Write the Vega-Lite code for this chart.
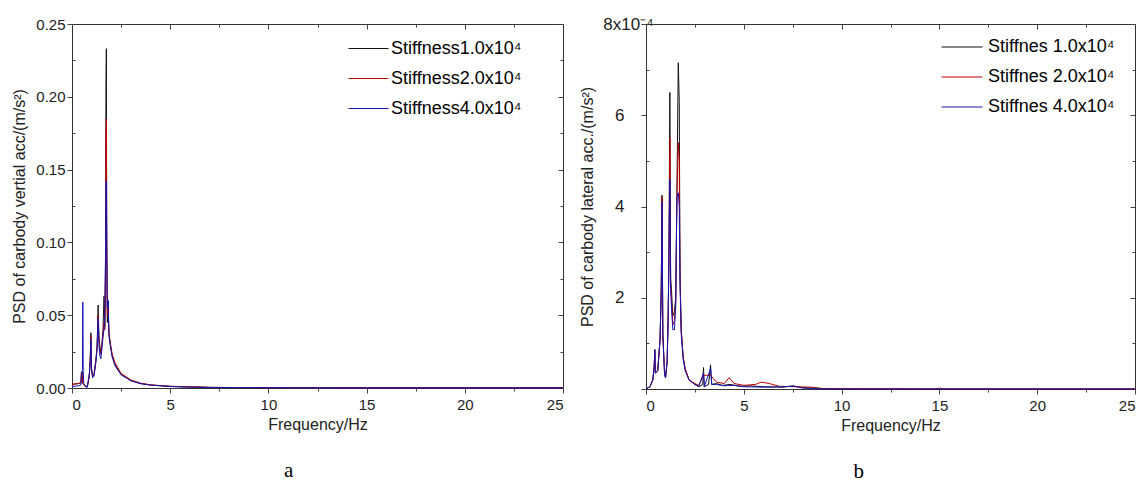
{
  "$schema": "https://vega.github.io/schema/vega-lite/v6.json",
  "padding": {"left": 11, "top": 15, "right": 0, "bottom": 0},
  "config": {
    "font": "Liberation Sans",
    "view": {"stroke": null},
    "axis": {"labelFontSize": 15, "titleFontSize": 16, "labelColor": "#222", "titleColor": "#222", "domainColor": "#333", "tickColor": "#444", "grid": false, "titleFontWeight": "normal", "labelFont": "Liberation Sans", "titleFont": "Liberation Sans"},
    "legend": {"labelFont": "Liberation Sans"}
  },
  "datasets": {
    "vert": [
      {"f":0,"v":0.0025,"s":"Stiffness1.0x10⁴"},{"f":0.3,"v":0.003,"s":"Stiffness1.0x10⁴"},{"f":0.45,"v":0.0035,"s":"Stiffness1.0x10⁴"},{"f":0.48,"v":0.011,"s":"Stiffness1.0x10⁴"},{"f":0.52,"v":0.011,"s":"Stiffness1.0x10⁴"},{"f":0.55,"v":0.003,"s":"Stiffness1.0x10⁴"},{"f":0.65,"v":0.0015,"s":"Stiffness1.0x10⁴"},{"f":0.78,"v":0.001,"s":"Stiffness1.0x10⁴"},{"f":0.88,"v":0.008,"s":"Stiffness1.0x10⁴"},{"f":0.93,"v":0.02,"s":"Stiffness1.0x10⁴"},{"f":0.96,"v":0.038,"s":"Stiffness1.0x10⁴"},{"f":0.99,"v":0.014,"s":"Stiffness1.0x10⁴"},{"f":1.05,"v":0.008,"s":"Stiffness1.0x10⁴"},{"f":1.12,"v":0.009,"s":"Stiffness1.0x10⁴"},{"f":1.22,"v":0.02,"s":"Stiffness1.0x10⁴"},{"f":1.28,"v":0.03,"s":"Stiffness1.0x10⁴"},{"f":1.33,"v":0.057,"s":"Stiffness1.0x10⁴"},{"f":1.37,"v":0.036,"s":"Stiffness1.0x10⁴"},{"f":1.42,"v":0.028,"s":"Stiffness1.0x10⁴"},{"f":1.47,"v":0.025,"s":"Stiffness1.0x10⁴"},{"f":1.53,"v":0.032,"s":"Stiffness1.0x10⁴"},{"f":1.58,"v":0.04,"s":"Stiffness1.0x10⁴"},{"f":1.63,"v":0.063,"s":"Stiffness1.0x10⁴"},{"f":1.67,"v":0.042,"s":"Stiffness1.0x10⁴"},{"f":1.71,"v":0.09,"s":"Stiffness1.0x10⁴"},{"f":1.73,"v":0.208,"s":"Stiffness1.0x10⁴"},{"f":1.75,"v":0.233,"s":"Stiffness1.0x10⁴"},{"f":1.77,"v":0.09,"s":"Stiffness1.0x10⁴"},{"f":1.8,"v":0.045,"s":"Stiffness1.0x10⁴"},{"f":1.84,"v":0.06,"s":"Stiffness1.0x10⁴"},{"f":1.88,"v":0.038,"s":"Stiffness1.0x10⁴"},{"f":1.95,"v":0.03,"s":"Stiffness1.0x10⁴"},{"f":2.05,"v":0.022,"s":"Stiffness1.0x10⁴"},{"f":2.2,"v":0.016,"s":"Stiffness1.0x10⁴"},{"f":2.5,"v":0.0095,"s":"Stiffness1.0x10⁴"},{"f":3,"v":0.005,"s":"Stiffness1.0x10⁴"},{"f":3.5,"v":0.003,"s":"Stiffness1.0x10⁴"},{"f":4,"v":0.002,"s":"Stiffness1.0x10⁴"},{"f":5,"v":0.0011,"s":"Stiffness1.0x10⁴"},{"f":6,"v":0.0006,"s":"Stiffness1.0x10⁴"},{"f":7,"v":0.0004,"s":"Stiffness1.0x10⁴"},{"f":10,"v":0.0002,"s":"Stiffness1.0x10⁴"},{"f":15,"v":0.0001,"s":"Stiffness1.0x10⁴"},{"f":25,"v":0.0001,"s":"Stiffness1.0x10⁴"},
      {"f":0,"v":0.0025,"s":"Stiffness2.0x10⁴"},{"f":0.3,"v":0.003,"s":"Stiffness2.0x10⁴"},{"f":0.45,"v":0.0035,"s":"Stiffness2.0x10⁴"},{"f":0.48,"v":0.01,"s":"Stiffness2.0x10⁴"},{"f":0.52,"v":0.01,"s":"Stiffness2.0x10⁴"},{"f":0.55,"v":0.003,"s":"Stiffness2.0x10⁴"},{"f":0.65,"v":0.0015,"s":"Stiffness2.0x10⁴"},{"f":0.78,"v":0.001,"s":"Stiffness2.0x10⁴"},{"f":0.88,"v":0.008,"s":"Stiffness2.0x10⁴"},{"f":0.93,"v":0.02,"s":"Stiffness2.0x10⁴"},{"f":0.96,"v":0.036,"s":"Stiffness2.0x10⁴"},{"f":0.99,"v":0.014,"s":"Stiffness2.0x10⁴"},{"f":1.05,"v":0.008,"s":"Stiffness2.0x10⁴"},{"f":1.12,"v":0.009,"s":"Stiffness2.0x10⁴"},{"f":1.22,"v":0.019,"s":"Stiffness2.0x10⁴"},{"f":1.28,"v":0.028,"s":"Stiffness2.0x10⁴"},{"f":1.33,"v":0.05,"s":"Stiffness2.0x10⁴"},{"f":1.37,"v":0.034,"s":"Stiffness2.0x10⁴"},{"f":1.42,"v":0.026,"s":"Stiffness2.0x10⁴"},{"f":1.47,"v":0.023,"s":"Stiffness2.0x10⁴"},{"f":1.53,"v":0.03,"s":"Stiffness2.0x10⁴"},{"f":1.58,"v":0.037,"s":"Stiffness2.0x10⁴"},{"f":1.63,"v":0.045,"s":"Stiffness2.0x10⁴"},{"f":1.67,"v":0.04,"s":"Stiffness2.0x10⁴"},{"f":1.71,"v":0.08,"s":"Stiffness2.0x10⁴"},{"f":1.73,"v":0.175,"s":"Stiffness2.0x10⁴"},{"f":1.75,"v":0.185,"s":"Stiffness2.0x10⁴"},{"f":1.77,"v":0.095,"s":"Stiffness2.0x10⁴"},{"f":1.8,"v":0.05,"s":"Stiffness2.0x10⁴"},{"f":1.84,"v":0.055,"s":"Stiffness2.0x10⁴"},{"f":1.88,"v":0.038,"s":"Stiffness2.0x10⁴"},{"f":1.95,"v":0.031,"s":"Stiffness2.0x10⁴"},{"f":2.05,"v":0.023,"s":"Stiffness2.0x10⁴"},{"f":2.2,"v":0.017,"s":"Stiffness2.0x10⁴"},{"f":2.5,"v":0.01,"s":"Stiffness2.0x10⁴"},{"f":3,"v":0.0055,"s":"Stiffness2.0x10⁴"},{"f":3.5,"v":0.0033,"s":"Stiffness2.0x10⁴"},{"f":4,"v":0.0022,"s":"Stiffness2.0x10⁴"},{"f":5,"v":0.0012,"s":"Stiffness2.0x10⁴"},{"f":6,"v":0.0008,"s":"Stiffness2.0x10⁴"},{"f":6.4,"v":0.0009,"s":"Stiffness2.0x10⁴"},{"f":7,"v":0.0004,"s":"Stiffness2.0x10⁴"},{"f":10,"v":0.0002,"s":"Stiffness2.0x10⁴"},{"f":15,"v":0.0001,"s":"Stiffness2.0x10⁴"},{"f":25,"v":0.0001,"s":"Stiffness2.0x10⁴"},
      {"f":0,"v":0.001,"s":"Stiffness4.0x10⁴"},{"f":0.3,"v":0.0015,"s":"Stiffness4.0x10⁴"},{"f":0.45,"v":0.002,"s":"Stiffness4.0x10⁴"},{"f":0.5,"v":0.01,"s":"Stiffness4.0x10⁴"},{"f":0.53,"v":0.012,"s":"Stiffness4.0x10⁴"},{"f":0.55,"v":0.059,"s":"Stiffness4.0x10⁴"},{"f":0.57,"v":0.012,"s":"Stiffness4.0x10⁴"},{"f":0.6,"v":0.003,"s":"Stiffness4.0x10⁴"},{"f":0.7,"v":0.0008,"s":"Stiffness4.0x10⁴"},{"f":0.78,"v":0.0005,"s":"Stiffness4.0x10⁴"},{"f":0.88,"v":0.01,"s":"Stiffness4.0x10⁴"},{"f":0.93,"v":0.018,"s":"Stiffness4.0x10⁴"},{"f":0.96,"v":0.034,"s":"Stiffness4.0x10⁴"},{"f":0.99,"v":0.013,"s":"Stiffness4.0x10⁴"},{"f":1.05,"v":0.007,"s":"Stiffness4.0x10⁴"},{"f":1.12,"v":0.008,"s":"Stiffness4.0x10⁴"},{"f":1.22,"v":0.018,"s":"Stiffness4.0x10⁴"},{"f":1.28,"v":0.027,"s":"Stiffness4.0x10⁴"},{"f":1.33,"v":0.048,"s":"Stiffness4.0x10⁴"},{"f":1.37,"v":0.03,"s":"Stiffness4.0x10⁴"},{"f":1.42,"v":0.022,"s":"Stiffness4.0x10⁴"},{"f":1.47,"v":0.02,"s":"Stiffness4.0x10⁴"},{"f":1.53,"v":0.028,"s":"Stiffness4.0x10⁴"},{"f":1.58,"v":0.035,"s":"Stiffness4.0x10⁴"},{"f":1.63,"v":0.04,"s":"Stiffness4.0x10⁴"},{"f":1.67,"v":0.05,"s":"Stiffness4.0x10⁴"},{"f":1.71,"v":0.095,"s":"Stiffness4.0x10⁴"},{"f":1.73,"v":0.14,"s":"Stiffness4.0x10⁴"},{"f":1.75,"v":0.142,"s":"Stiffness4.0x10⁴"},{"f":1.77,"v":0.1,"s":"Stiffness4.0x10⁴"},{"f":1.8,"v":0.055,"s":"Stiffness4.0x10⁴"},{"f":1.84,"v":0.06,"s":"Stiffness4.0x10⁴"},{"f":1.88,"v":0.036,"s":"Stiffness4.0x10⁴"},{"f":1.95,"v":0.029,"s":"Stiffness4.0x10⁴"},{"f":2.05,"v":0.021,"s":"Stiffness4.0x10⁴"},{"f":2.2,"v":0.015,"s":"Stiffness4.0x10⁴"},{"f":2.5,"v":0.009,"s":"Stiffness4.0x10⁴"},{"f":3,"v":0.005,"s":"Stiffness4.0x10⁴"},{"f":3.5,"v":0.003,"s":"Stiffness4.0x10⁴"},{"f":4,"v":0.002,"s":"Stiffness4.0x10⁴"},{"f":5,"v":0.001,"s":"Stiffness4.0x10⁴"},{"f":6,"v":0.0006,"s":"Stiffness4.0x10⁴"},{"f":7,"v":0.0004,"s":"Stiffness4.0x10⁴"},{"f":10,"v":0.0002,"s":"Stiffness4.0x10⁴"},{"f":15,"v":0.0001,"s":"Stiffness4.0x10⁴"},{"f":25,"v":0.0001,"s":"Stiffness4.0x10⁴"}
    ],
    "lat": [
      {"f":0,"v":0,"s":"Stiffnes 1.0x10⁴"},{"f":0.2,"v":0.05,"s":"Stiffnes 1.0x10⁴"},{"f":0.35,"v":0.2,"s":"Stiffnes 1.0x10⁴"},{"f":0.42,"v":0.5,"s":"Stiffnes 1.0x10⁴"},{"f":0.45,"v":0.87,"s":"Stiffnes 1.0x10⁴"},{"f":0.48,"v":0.35,"s":"Stiffnes 1.0x10⁴"},{"f":0.6,"v":0.4,"s":"Stiffnes 1.0x10⁴"},{"f":0.72,"v":1.1,"s":"Stiffnes 1.0x10⁴"},{"f":0.78,"v":2.2,"s":"Stiffnes 1.0x10⁴"},{"f":0.82,"v":4.25,"s":"Stiffnes 1.0x10⁴"},{"f":0.86,"v":1.2,"s":"Stiffnes 1.0x10⁴"},{"f":0.95,"v":0.35,"s":"Stiffnes 1.0x10⁴"},{"f":1.0,"v":0.25,"s":"Stiffnes 1.0x10⁴"},{"f":1.08,"v":0.6,"s":"Stiffnes 1.0x10⁴"},{"f":1.13,"v":1.5,"s":"Stiffnes 1.0x10⁴"},{"f":1.17,"v":2.8,"s":"Stiffnes 1.0x10⁴"},{"f":1.22,"v":6.5,"s":"Stiffnes 1.0x10⁴"},{"f":1.26,"v":2.4,"s":"Stiffnes 1.0x10⁴"},{"f":1.3,"v":2.2,"s":"Stiffnes 1.0x10⁴"},{"f":1.37,"v":1.6,"s":"Stiffnes 1.0x10⁴"},{"f":1.45,"v":1.7,"s":"Stiffnes 1.0x10⁴"},{"f":1.52,"v":2.0,"s":"Stiffnes 1.0x10⁴"},{"f":1.58,"v":4.3,"s":"Stiffnes 1.0x10⁴"},{"f":1.65,"v":7.15,"s":"Stiffnes 1.0x10⁴"},{"f":1.7,"v":6.3,"s":"Stiffnes 1.0x10⁴"},{"f":1.74,"v":2.5,"s":"Stiffnes 1.0x10⁴"},{"f":1.8,"v":1.3,"s":"Stiffnes 1.0x10⁴"},{"f":1.9,"v":0.7,"s":"Stiffnes 1.0x10⁴"},{"f":2.0,"v":0.45,"s":"Stiffnes 1.0x10⁴"},{"f":2.2,"v":0.2,"s":"Stiffnes 1.0x10⁴"},{"f":2.5,"v":0.1,"s":"Stiffnes 1.0x10⁴"},{"f":2.7,"v":0.05,"s":"Stiffnes 1.0x10⁴"},{"f":2.9,"v":0.1,"s":"Stiffnes 1.0x10⁴"},{"f":2.94,"v":0.47,"s":"Stiffnes 1.0x10⁴"},{"f":2.98,"v":0.05,"s":"Stiffnes 1.0x10⁴"},{"f":3.2,"v":0.1,"s":"Stiffnes 1.0x10⁴"},{"f":3.3,"v":0.53,"s":"Stiffnes 1.0x10⁴"},{"f":3.36,"v":0.1,"s":"Stiffnes 1.0x10⁴"},{"f":3.6,"v":0.12,"s":"Stiffnes 1.0x10⁴"},{"f":3.9,"v":0.08,"s":"Stiffnes 1.0x10⁴"},{"f":4.3,"v":0.1,"s":"Stiffnes 1.0x10⁴"},{"f":4.8,"v":0.06,"s":"Stiffnes 1.0x10⁴"},{"f":5.3,"v":0.07,"s":"Stiffnes 1.0x10⁴"},{"f":6,"v":0.05,"s":"Stiffnes 1.0x10⁴"},{"f":7,"v":0.04,"s":"Stiffnes 1.0x10⁴"},{"f":7.5,"v":0.07,"s":"Stiffnes 1.0x10⁴"},{"f":8,"v":0.03,"s":"Stiffnes 1.0x10⁴"},{"f":9,"v":0.01,"s":"Stiffnes 1.0x10⁴"},{"f":10,"v":0,"s":"Stiffnes 1.0x10⁴"},{"f":25,"v":0,"s":"Stiffnes 1.0x10⁴"},
      {"f":0,"v":0,"s":"Stiffnes 2.0x10⁴"},{"f":0.2,"v":0.05,"s":"Stiffnes 2.0x10⁴"},{"f":0.35,"v":0.2,"s":"Stiffnes 2.0x10⁴"},{"f":0.42,"v":0.5,"s":"Stiffnes 2.0x10⁴"},{"f":0.45,"v":0.8,"s":"Stiffnes 2.0x10⁴"},{"f":0.48,"v":0.35,"s":"Stiffnes 2.0x10⁴"},{"f":0.6,"v":0.4,"s":"Stiffnes 2.0x10⁴"},{"f":0.72,"v":1.1,"s":"Stiffnes 2.0x10⁴"},{"f":0.78,"v":2.1,"s":"Stiffnes 2.0x10⁴"},{"f":0.82,"v":4.2,"s":"Stiffnes 2.0x10⁴"},{"f":0.86,"v":1.2,"s":"Stiffnes 2.0x10⁴"},{"f":0.95,"v":0.35,"s":"Stiffnes 2.0x10⁴"},{"f":1.0,"v":0.25,"s":"Stiffnes 2.0x10⁴"},{"f":1.08,"v":0.6,"s":"Stiffnes 2.0x10⁴"},{"f":1.13,"v":1.5,"s":"Stiffnes 2.0x10⁴"},{"f":1.17,"v":2.7,"s":"Stiffnes 2.0x10⁴"},{"f":1.22,"v":5.5,"s":"Stiffnes 2.0x10⁴"},{"f":1.26,"v":2.3,"s":"Stiffnes 2.0x10⁴"},{"f":1.3,"v":2.0,"s":"Stiffnes 2.0x10⁴"},{"f":1.37,"v":1.4,"s":"Stiffnes 2.0x10⁴"},{"f":1.45,"v":1.5,"s":"Stiffnes 2.0x10⁴"},{"f":1.52,"v":1.9,"s":"Stiffnes 2.0x10⁴"},{"f":1.58,"v":4.2,"s":"Stiffnes 2.0x10⁴"},{"f":1.65,"v":5.4,"s":"Stiffnes 2.0x10⁴"},{"f":1.7,"v":5.0,"s":"Stiffnes 2.0x10⁴"},{"f":1.74,"v":2.4,"s":"Stiffnes 2.0x10⁴"},{"f":1.8,"v":1.3,"s":"Stiffnes 2.0x10⁴"},{"f":1.9,"v":0.7,"s":"Stiffnes 2.0x10⁴"},{"f":2.0,"v":0.45,"s":"Stiffnes 2.0x10⁴"},{"f":2.2,"v":0.2,"s":"Stiffnes 2.0x10⁴"},{"f":2.5,"v":0.12,"s":"Stiffnes 2.0x10⁴"},{"f":2.7,"v":0.08,"s":"Stiffnes 2.0x10⁴"},{"f":2.94,"v":0.3,"s":"Stiffnes 2.0x10⁴"},{"f":3.3,"v":0.3,"s":"Stiffnes 2.0x10⁴"},{"f":3.6,"v":0.15,"s":"Stiffnes 2.0x10⁴"},{"f":4.0,"v":0.12,"s":"Stiffnes 2.0x10⁴"},{"f":4.25,"v":0.25,"s":"Stiffnes 2.0x10⁴"},{"f":4.5,"v":0.12,"s":"Stiffnes 2.0x10⁴"},{"f":5.0,"v":0.08,"s":"Stiffnes 2.0x10⁴"},{"f":5.6,"v":0.1,"s":"Stiffnes 2.0x10⁴"},{"f":5.9,"v":0.15,"s":"Stiffnes 2.0x10⁴"},{"f":6.3,"v":0.12,"s":"Stiffnes 2.0x10⁴"},{"f":6.8,"v":0.06,"s":"Stiffnes 2.0x10⁴"},{"f":7.5,"v":0.05,"s":"Stiffnes 2.0x10⁴"},{"f":8.5,"v":0.04,"s":"Stiffnes 2.0x10⁴"},{"f":9,"v":0.01,"s":"Stiffnes 2.0x10⁴"},{"f":14.8,"v":0,"s":"Stiffnes 2.0x10⁴"},{"f":15,"v":0.02,"s":"Stiffnes 2.0x10⁴"},{"f":15.2,"v":0,"s":"Stiffnes 2.0x10⁴"},{"f":25,"v":0,"s":"Stiffnes 2.0x10⁴"},
      {"f":0,"v":0,"s":"Stiffnes 4.0x10⁴"},{"f":0.2,"v":0.05,"s":"Stiffnes 4.0x10⁴"},{"f":0.35,"v":0.2,"s":"Stiffnes 4.0x10⁴"},{"f":0.42,"v":0.5,"s":"Stiffnes 4.0x10⁴"},{"f":0.45,"v":0.85,"s":"Stiffnes 4.0x10⁴"},{"f":0.48,"v":0.35,"s":"Stiffnes 4.0x10⁴"},{"f":0.6,"v":0.4,"s":"Stiffnes 4.0x10⁴"},{"f":0.72,"v":1.1,"s":"Stiffnes 4.0x10⁴"},{"f":0.78,"v":2.2,"s":"Stiffnes 4.0x10⁴"},{"f":0.82,"v":4.1,"s":"Stiffnes 4.0x10⁴"},{"f":0.86,"v":1.2,"s":"Stiffnes 4.0x10⁴"},{"f":0.95,"v":0.3,"s":"Stiffnes 4.0x10⁴"},{"f":1.0,"v":0.25,"s":"Stiffnes 4.0x10⁴"},{"f":1.08,"v":0.6,"s":"Stiffnes 4.0x10⁴"},{"f":1.13,"v":1.5,"s":"Stiffnes 4.0x10⁴"},{"f":1.17,"v":2.8,"s":"Stiffnes 4.0x10⁴"},{"f":1.22,"v":4.6,"s":"Stiffnes 4.0x10⁴"},{"f":1.26,"v":2.2,"s":"Stiffnes 4.0x10⁴"},{"f":1.3,"v":1.8,"s":"Stiffnes 4.0x10⁴"},{"f":1.37,"v":1.3,"s":"Stiffnes 4.0x10⁴"},{"f":1.45,"v":1.3,"s":"Stiffnes 4.0x10⁴"},{"f":1.52,"v":1.8,"s":"Stiffnes 4.0x10⁴"},{"f":1.58,"v":4.2,"s":"Stiffnes 4.0x10⁴"},{"f":1.65,"v":4.3,"s":"Stiffnes 4.0x10⁴"},{"f":1.7,"v":4.0,"s":"Stiffnes 4.0x10⁴"},{"f":1.74,"v":2.3,"s":"Stiffnes 4.0x10⁴"},{"f":1.8,"v":1.2,"s":"Stiffnes 4.0x10⁴"},{"f":1.9,"v":0.65,"s":"Stiffnes 4.0x10⁴"},{"f":2.0,"v":0.4,"s":"Stiffnes 4.0x10⁴"},{"f":2.2,"v":0.2,"s":"Stiffnes 4.0x10⁴"},{"f":2.5,"v":0.1,"s":"Stiffnes 4.0x10⁴"},{"f":2.7,"v":0.06,"s":"Stiffnes 4.0x10⁴"},{"f":2.94,"v":0.35,"s":"Stiffnes 4.0x10⁴"},{"f":2.98,"v":0.05,"s":"Stiffnes 4.0x10⁴"},{"f":3.3,"v":0.45,"s":"Stiffnes 4.0x10⁴"},{"f":3.36,"v":0.1,"s":"Stiffnes 4.0x10⁴"},{"f":3.6,"v":0.1,"s":"Stiffnes 4.0x10⁴"},{"f":4.0,"v":0.07,"s":"Stiffnes 4.0x10⁴"},{"f":4.5,"v":0.08,"s":"Stiffnes 4.0x10⁴"},{"f":5,"v":0.05,"s":"Stiffnes 4.0x10⁴"},{"f":6,"v":0.04,"s":"Stiffnes 4.0x10⁴"},{"f":7,"v":0.05,"s":"Stiffnes 4.0x10⁴"},{"f":7.6,"v":0.06,"s":"Stiffnes 4.0x10⁴"},{"f":8,"v":0.02,"s":"Stiffnes 4.0x10⁴"},{"f":9,"v":0,"s":"Stiffnes 4.0x10⁴"},{"f":25,"v":0,"s":"Stiffnes 4.0x10⁴"}
    ]
  },
  "spacing": 13,
  "resolve": {"scale": {"color": "independent"}},
  "hconcat": [
    {
      "width": 491, "height": 364,
      "data": {"name": "vert"},
      "title": {"text": "a", "orient": "bottom", "frame": "bounds", "anchor": "middle", "font": "Liberation Serif", "fontSize": 21, "fontWeight": "normal", "offset": 28, "color": "#000"},
      "resolve": {"axis": {"x": "independent", "y": "independent"}},
      "layer": [
        {
          "mark": {"type": "line", "strokeWidth": 1},
          "encoding": {
            "x": {"field": "f", "type": "quantitative", "scale": {"domain": [0, 25], "nice": false},
                  "axis": {"orient": "bottom", "values": [0, 5, 10, 15, 20, 25], "title": "Frequency/Hz", "tickSize": 5, "labelPadding": 4, "titlePadding": 4}},
            "y": {"field": "v", "type": "quantitative", "scale": {"domain": [0, 0.25], "nice": false},
                  "axis": {"orient": "left", "values": [0, 0.05, 0.1, 0.15, 0.2, 0.25], "format": ".2f", "title": "PSD of carbody vertial acc/(m/s²)", "tickSize": 5, "labelPadding": 2, "titlePadding": 8}},
            "color": {"field": "s", "type": "nominal", "sort": null,
                      "scale": {"domain": ["Stiffness1.0x10⁴", "Stiffness2.0x10⁴", "Stiffness4.0x10⁴"], "range": ["#111111", "#c00000", "#1414b4"]},
                      "legend": {"orient": "none", "legendX": 276, "legendY": 4, "title": null, "symbolType": "stroke", "symbolSize": 1600, "symbolStrokeWidth": 1, "labelFontSize": 18, "labelOffset": 2, "rowPadding": -14, "padding": 0, "labelColor": "#000"}}
          }
        },
        {
          "mark": {"type": "point", "opacity": 0},
          "encoding": {
            "x": {"field": "f", "type": "quantitative", "axis": {"orient": "top", "values": [0, 5, 10, 15, 20, 25], "labels": false, "title": null, "tickSize": -5}},
            "y": {"field": "v", "type": "quantitative", "axis": {"orient": "right", "values": [0, 0.05, 0.1, 0.15, 0.2, 0.25], "labels": false, "title": null, "tickSize": -5}}
          }
        },
        {
          "mark": {"type": "point", "opacity": 0},
          "encoding": {
            "x": {"field": "f", "type": "quantitative", "axis": {"orient": "bottom", "values": [2.5, 7.5, 12.5, 17.5, 22.5], "labels": false, "title": null, "domain": false, "tickSize": 3}},
            "y": {"field": "v", "type": "quantitative", "axis": {"orient": "left", "values": [0.025, 0.075, 0.125, 0.175, 0.225], "labels": false, "title": null, "domain": false, "tickSize": -3}}
          }
        },
        {
          "mark": {"type": "point", "opacity": 0},
          "encoding": {
            "x": {"field": "f", "type": "quantitative", "axis": {"orient": "top", "values": [2.5, 7.5, 12.5, 17.5, 22.5], "labels": false, "title": null, "domain": false, "tickSize": -3}},
            "y": {"field": "v", "type": "quantitative", "axis": {"orient": "right", "values": [0.025, 0.075, 0.125, 0.175, 0.225], "labels": false, "title": null, "domain": false, "tickSize": -3}}
          }
        }
      ]
    },
    {
      "width": 489, "height": 365,
      "data": {"name": "lat"},
      "title": {"text": "b", "orient": "bottom", "frame": "bounds", "anchor": "middle", "font": "Liberation Serif", "fontSize": 21, "fontWeight": "normal", "offset": 28, "color": "#000"},
      "resolve": {"axis": {"x": "independent", "y": "independent"}},
      "layer": [
        {
          "mark": {"type": "line", "strokeWidth": 1},
          "encoding": {
            "x": {"field": "f", "type": "quantitative", "scale": {"domain": [0, 25], "nice": false},
                  "axis": {"orient": "bottom", "values": [0, 5, 10, 15, 20, 25], "title": "Frequency/Hz", "tickSize": 5, "labelPadding": 4, "titlePadding": 4}},
            "y": {"field": "v", "type": "quantitative", "scale": {"domain": [0, 8], "nice": false},
                  "axis": {"orient": "left", "values": [0, 2, 4, 6, 8], "labelExpr": "datum.value == 0 ? '' : datum.value == 8 ? '8x10⁻⁴' : datum.label", "labelFontSize": 17, "title": "PSD of carbody lateral acc./(m/s²)", "tickSize": 5, "labelPadding": {"condition": {"test": "datum.value == 8", "value": -12}, "value": 17}, "titlePadding": 7}},
            "color": {"field": "s", "type": "nominal", "sort": null,
                      "scale": {"domain": ["Stiffnes 1.0x10⁴", "Stiffnes 2.0x10⁴", "Stiffnes 4.0x10⁴"], "range": ["#111111", "#c00000", "#1414b4"]},
                      "legend": {"orient": "none", "legendX": 295, "legendY": 2, "title": null, "symbolType": "stroke", "symbolSize": 1680, "symbolStrokeWidth": 1, "labelFontSize": 18, "labelOffset": 5, "rowPadding": -14, "padding": 0, "labelColor": "#000"}}
          }
        },
        {
          "mark": {"type": "point", "opacity": 0},
          "encoding": {
            "x": {"field": "f", "type": "quantitative", "axis": {"orient": "top", "values": [0, 5, 10, 15, 20, 25], "labels": false, "title": null, "tickSize": -5}},
            "y": {"field": "v", "type": "quantitative", "axis": {"orient": "right", "values": [0, 2, 4, 6, 8], "labels": false, "title": null, "tickSize": -5}}
          }
        },
        {
          "mark": {"type": "point", "opacity": 0},
          "encoding": {
            "x": {"field": "f", "type": "quantitative", "axis": {"orient": "bottom", "values": [2.5, 7.5, 12.5, 17.5, 22.5], "labels": false, "title": null, "domain": false, "tickSize": 3}},
            "y": {"field": "v", "type": "quantitative", "axis": {"orient": "left", "values": [1, 3, 5, 7], "labels": false, "title": null, "domain": false, "tickSize": -3}}
          }
        },
        {
          "mark": {"type": "point", "opacity": 0},
          "encoding": {
            "x": {"field": "f", "type": "quantitative", "axis": {"orient": "top", "values": [2.5, 7.5, 12.5, 17.5, 22.5], "labels": false, "title": null, "domain": false, "tickSize": -3}},
            "y": {"field": "v", "type": "quantitative", "axis": {"orient": "right", "values": [1, 3, 5, 7], "labels": false, "title": null, "domain": false, "tickSize": -3}}
          }
        }
      ]
    }
  ]
}
